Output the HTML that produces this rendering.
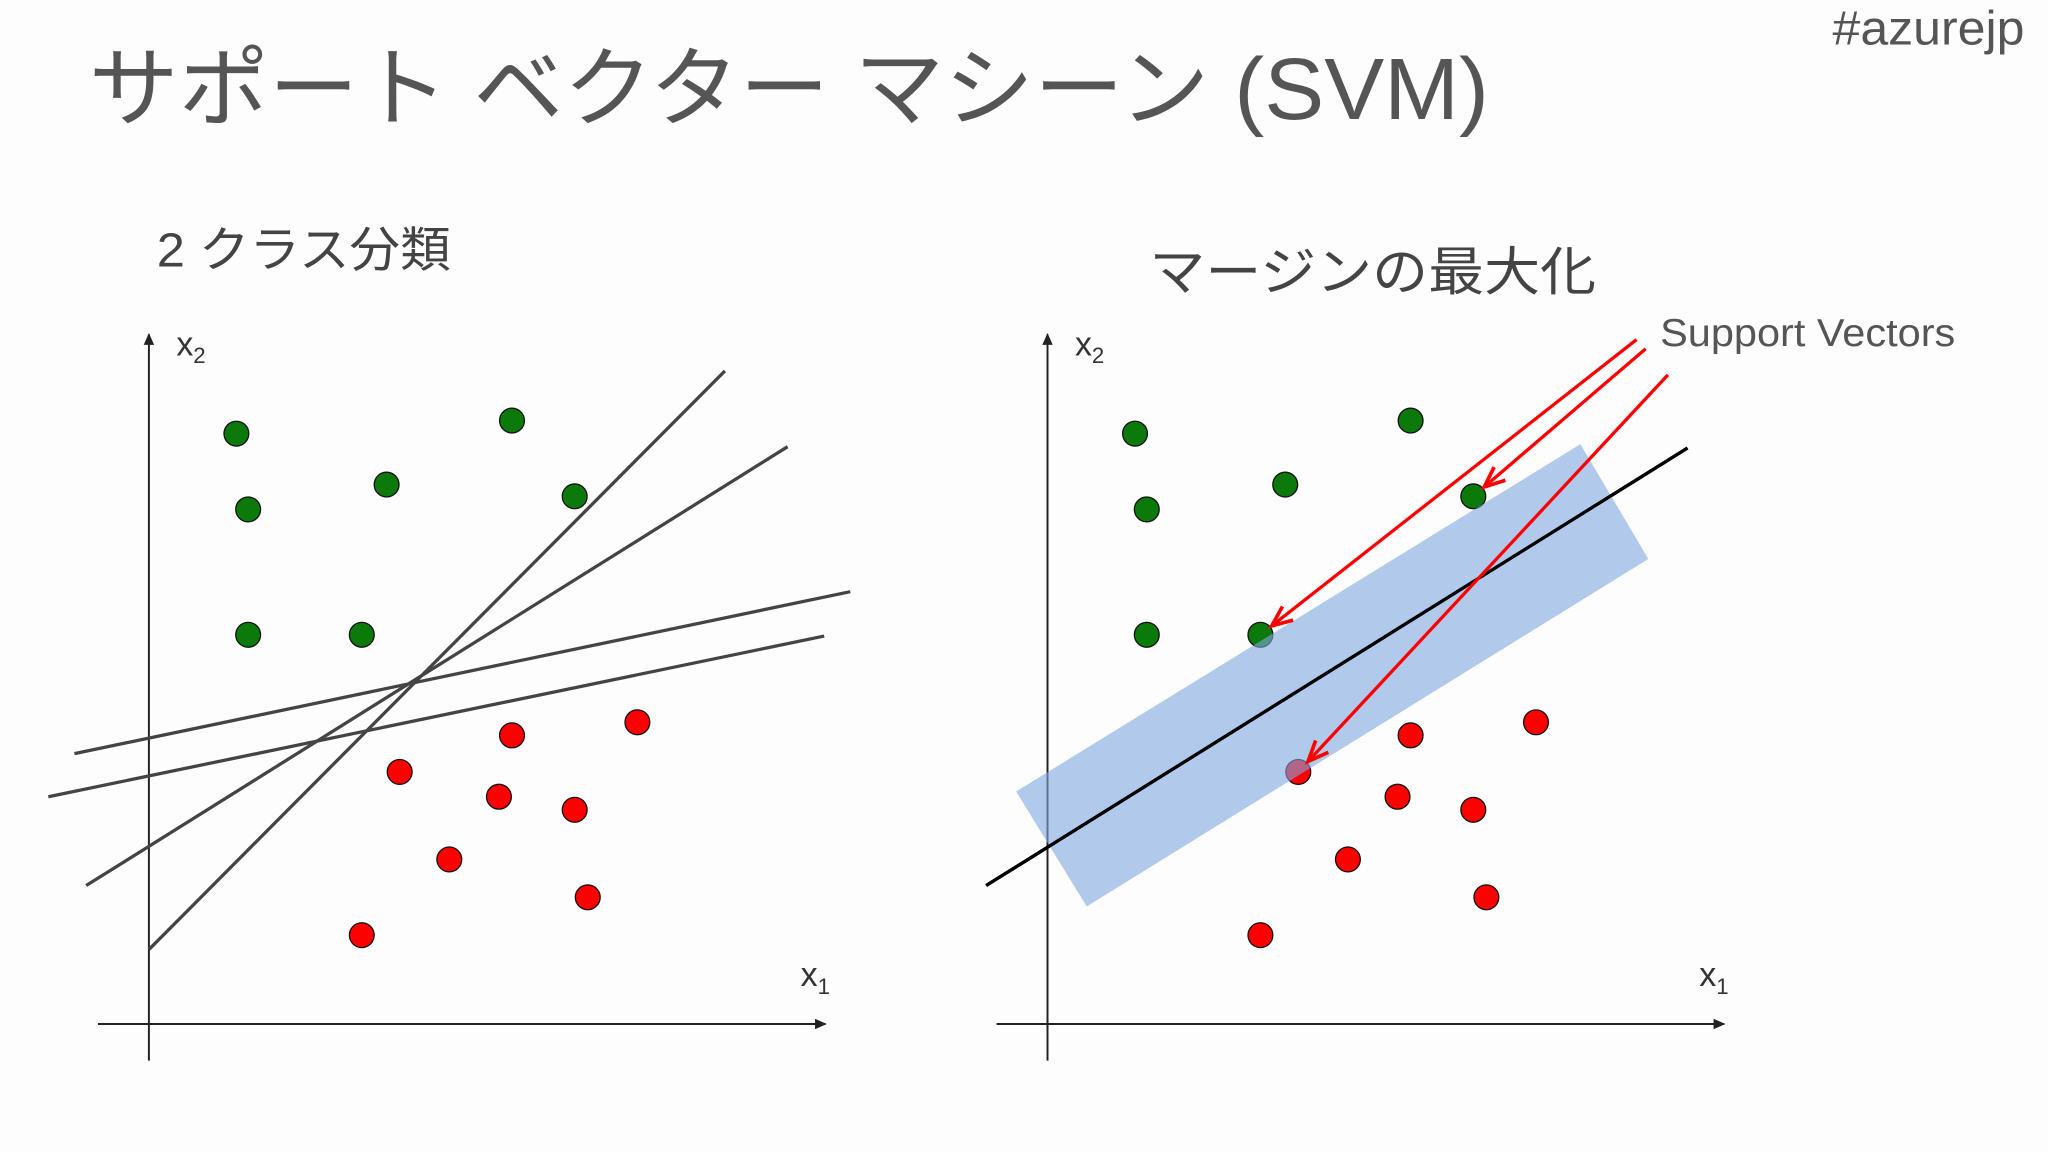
<!DOCTYPE html>
<html><head><meta charset="utf-8"><style>
html,body{margin:0;padding:0;background:#fdfdfe;}
svg{display:block}
text{font-family:"Liberation Sans","Noto Sans CJK JP",sans-serif;}
</style></head><body>
<svg id="chart" width="2048" height="1152" viewBox="0 0 1568 882" xmlns="http://www.w3.org/2000/svg">
<defs>
<marker id="ah" markerWidth="10" markerHeight="10" refX="8" refY="5" orient="auto" markerUnits="userSpaceOnUse"><path d="M0,1 L9,5 L0,9 z" fill="#222"/></marker>
</defs>
<rect width="1568" height="882" fill="#fdfdfe"/>
<text x="68" y="91" font-size="67" fill="#555" textLength="1072" lengthAdjust="spacingAndGlyphs">サポート ベクター マシーン (SVM)</text>
<text x="1403" y="34" font-size="37" fill="#555" textLength="147" lengthAdjust="spacingAndGlyphs">#azurejp</text>
<text x="120" y="204" font-size="37" fill="#444" textLength="225" lengthAdjust="spacingAndGlyphs">2 クラス分類</text>
<text x="880" y="222" font-size="40" fill="#444" textLength="342" lengthAdjust="spacingAndGlyphs">マージンの最大化</text>
<text x="1271" y="265" font-size="30" fill="#555" textLength="226" lengthAdjust="spacingAndGlyphs">Support Vectors</text>
<g id="left"></g>
<g id="right"></g>
</svg>
<script>
// data values: x1, x2 measured from axis origin
const greenX = [67, 278, 182, 76, 326, 76, 163];
const greenY = [452, 462, 413, 394, 404, 298, 298];
const redX = [278, 374, 192, 268, 326, 230, 336, 163];
const redY = [221, 231, 193, 174, 164, 126, 97, 68];
const leftLines = [[-57,207,537,331],[-77,174,517,297],[-48,106,489,442],[0,57,441,500]];
const rightLine = [-47,106,490,441];
const band = [[-24,178],[408,444],[460,356],[30,90]];
const svPoints = [[163,298],[326,404],[192,193]];
const arrowStarts = [[451,524],[458,517],[475,497]];
const ns = "http://www.w3.org/2000/svg";
function mk(tag, attrs, parent){const e=document.createElementNS(ns,tag);for(const k in attrs)e.setAttribute(k,attrs[k]);parent.appendChild(e);return e;}
function sx(o,v){return o+v;}
function sy(v){return 784-v;}
function drawAxes(g,o){
  let a=mk('line',{x1:o,y1:812,x2:o,y2:256,stroke:'#222','stroke-width':1.5,'marker-end':'url(#ah)'},g);
  
  
  let b=mk('line',{x1:o-39,y1:784,x2:o+518,y2:784,stroke:'#222','stroke-width':1.5,'marker-end':'url(#ah)'},g);
  
  
  let t=mk('text',{x:o+21,y:272,'font-size':26,fill:'#333'},g);t.innerHTML='x<tspan font-size="17" dy="6">2</tspan>';
  
  
  let t2=mk('text',{x:o+499,y:755,'font-size':26,fill:'#333'},g);t2.innerHTML='x<tspan font-size="17" dy="6">1</tspan>';
  
  
}
function drawPoints(g,o){
  greenX.forEach((x,i)=>{const c=mk('circle',{cx:sx(o,x),cy:sy(greenY[i]),r:9.5,fill:'#0b7a0b',stroke:'#111','stroke-width':1},g);
    
    });
  redX.forEach((x,i)=>{const c=mk('circle',{cx:sx(o,x),cy:sy(redY[i]),r:9.5,fill:'#f00',stroke:'#111','stroke-width':1},g);
    
    });
}
const L=document.getElementById('left'),R=document.getElementById('right');
drawAxes(L,114);
leftLines.forEach(l=>{const e=mk('line',{x1:sx(114,l[0]),y1:sy(l[1]),x2:sx(114,l[2]),y2:sy(l[3]),stroke:'#444','stroke-width':2.5},L);
  
  });
drawPoints(L,114);
drawAxes(R,802);
const rl=mk('line',{x1:sx(802,rightLine[0]),y1:sy(rightLine[1]),x2:sx(802,rightLine[2]),y2:sy(rightLine[3]),stroke:'#000','stroke-width':2.5},R);


drawPoints(R,802);
const poly=mk('polygon',{points:band.map(p=>sx(802,p[0])+','+sy(p[1])).join(' '),fill:'#7fa8e0','fill-opacity':0.6},R);


const rl2=mk('line',{x1:sx(802,rightLine[0]),y1:sy(rightLine[1]),x2:sx(802,rightLine[2]),y2:sy(rightLine[3]),stroke:'#000','stroke-width':2.5},R);


arrowStarts.forEach((s,i)=>{const t=svPoints[i];
  const dx=t[0]-s[0],dy=t[1]-s[1],d=Math.hypot(dx,dy),k=(d-11)/d;
  const a=mk('line',{x1:sx(802,s[0]),y1:sy(s[1]),x2:sx(802,s[0]+dx*k),y2:sy(s[1]+dy*k),stroke:'#f00','stroke-width':2.5},R);
  
  
  const ang=Math.atan2(-(dy),dx);const ex=sx(802,s[0]+dx*k),ey=sy(s[1]+dy*k);
  const h=17,w=0.4;
  const p=mk('polyline',{points:`${ex-h*Math.cos(ang-w)},${ey-h*Math.sin(ang-w)} ${ex},${ey} ${ex-h*Math.cos(ang+w)},${ey-h*Math.sin(ang+w)}`,fill:'none',stroke:'#f00','stroke-width':2.8},R);
  
  
});
</script>
</body></html>
